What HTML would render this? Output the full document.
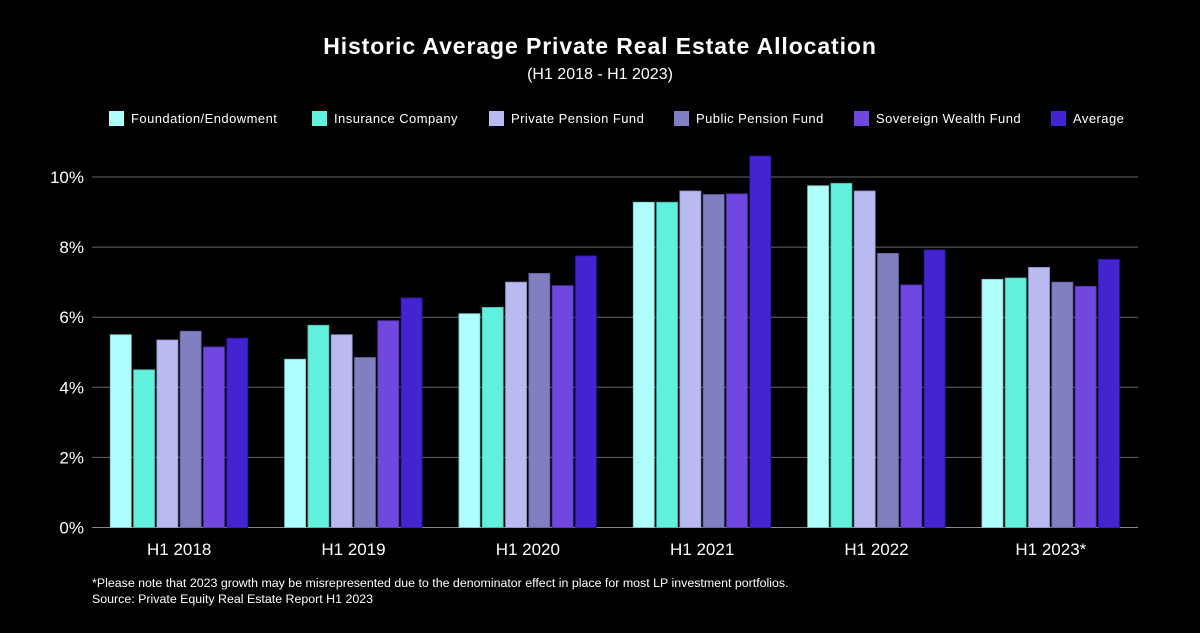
<!DOCTYPE html>
<html><head><meta charset="utf-8"><style>
body{margin:0;background:#000;width:1200px;height:628px;overflow:hidden;font-family:"Liberation Sans",sans-serif;color:#fff}
</style></head><body>
<svg width="1200" height="628" id="c" xmlns="http://www.w3.org/2000/svg">
<text x="600" y="54" text-anchor="middle" font-size="23" font-weight="bold" letter-spacing="0.9" fill="#fff">Historic Average Private Real Estate Allocation</text>
<text x="600" y="79" text-anchor="middle" font-size="16" fill="#fff">(H1 2018 - H1 2023)</text>
<g id="legend"></g>
<g id="grid"></g>
<g id="bars"></g>
<text x="92" y="587" font-size="12.4" fill="#fff">*Please note that 2023 growth may be misrepresented due to the denominator effect in place for most LP investment portfolios.</text>
<text x="92" y="603" font-size="12.4" fill="#fff">Source: Private Equity Real Estate Report H1 2023</text>
</svg>
<script>
const categories=["H1 2018","H1 2019","H1 2020","H1 2021","H1 2022","H1 2023*"];
const seriesNames=["Foundation/Endowment","Insurance Company","Private Pension Fund","Public Pension Fund","Sovereign Wealth Fund","Average"];
const foundation=[5.5,4.8,6.1,9.28,9.75,7.08];
const insurance=[4.5,5.77,6.28,9.28,9.82,7.12];
const privatePension=[5.35,5.5,7.0,9.6,9.6,7.42];
const publicPension=[5.6,4.85,7.25,9.5,7.82,7.0];
const sovereign=[5.15,5.9,6.9,9.52,6.92,6.88];
const average=[5.4,6.55,7.75,10.6,7.92,7.65];
const yTicks=[0,2,4,6,8,10];
const series=[foundation,insurance,privatePension,publicPension,sovereign,average];
const colors=["#b0ffff","#60f0dc","#b8baf0","#8080c0","#7048e0","#4424d0"];
const strokes=["#80c8c8","#3cb8a8","#9090c8","#6060a0","#5030b0","#3010a0"];
const NS="http://www.w3.org/2000/svg";
const x0=92,x1=1138,yBase=527.5,yTop=177;
const y=v=>yBase-(yBase-yTop)*v/10;
const gw=(x1-x0)/categories.length;
function mk(t,a,p){const e=document.createElementNS(NS,t);for(const k in a)e.setAttribute(k,a[k]);p.appendChild(e);return e;}
const grid=document.getElementById('grid');
yTicks.forEach(t=>{
 const l=mk('line',{x1:x0,x2:x1,y1:y(t),y2:y(t),stroke:t===0?'#888':'#666','stroke-width':1},grid);
 
 
 const tx=mk('text',{x:84,y:y(t)+6,'text-anchor':'end','font-size':17,fill:'#fff'},grid);
 tx.textContent=t+'%';
 
 
});
const bars=document.getElementById('bars');
const bw=21,bp=23.3;
categories.forEach((c,i)=>{
 const cx=x0+gw*(i+0.5);
 series.forEach((s,j)=>{
  const bx=cx-bp*3+bp*j+1;
  const r=mk('rect',{x:bx,y:y(s[i]),width:bw,height:yBase-y(s[i]),fill:colors[j],stroke:strokes[j],'stroke-width':0.8},bars);
  
  
 });
 const tx=mk('text',{x:cx,y:555,'text-anchor':'middle','font-size':17,fill:'#fff'},bars);
 tx.textContent=c;
 
 
});
const leg=document.getElementById('legend');
const lx=[109,312,489,674,854,1051];
seriesNames.forEach((n,j)=>{
 const r=mk('rect',{x:lx[j],y:111,width:15,height:15,fill:colors[j]},leg);
 
 
 const t=mk('text',{x:lx[j]+22,y:123,'font-size':13,'letter-spacing':0.45,fill:'#fff'},leg);
 t.textContent=n;
 
 
});
</script>
</body></html>
